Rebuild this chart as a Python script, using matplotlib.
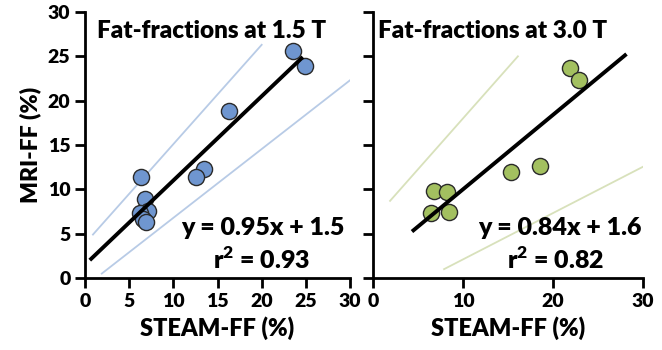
import matplotlib.pyplot as plt

plt.rcParams['font.family'] = ['Lato', 'DejaVu Sans']
plt.rcParams['font.weight'] = 'heavy'
plt.rcParams['mathtext.fontset'] = 'custom'
plt.rcParams['mathtext.bf'] = 'Lato:heavy'

# 1.5 T data (STEAM-FF, MRI-FF)
steam_15 = [23.5, 24.9, 16.3, 13.5, 12.6, 6.3, 6.8, 7.1, 6.2, 6.6, 6.9]
mri_15 = [25.6, 23.9, 18.8, 12.3, 11.4, 11.4, 8.9, 7.6, 7.3, 6.6, 6.3]
fit_15_x = [0.7, 24.5]
band_hi_15_x = [0.9, 20.0]
band_hi_15_y = [4.9, 26.3]
band_lo_15_x = [1.9, 30.0]
band_lo_15_y = [0.5, 22.3]

# 3.0 T data
steam_30 = [21.9, 22.9, 18.6, 15.3, 6.8, 8.2, 6.5, 8.5]
mri_30 = [23.7, 22.3, 12.6, 12.0, 9.8, 9.7, 7.3, 7.4]
fit_30_x = [4.5, 28.0]
band_hi_30_x = [1.9, 16.1]
band_hi_30_y = [8.7, 25.0]
band_lo_30_x = [7.9, 30.1]
band_lo_30_y = [1.0, 12.6]

fig = plt.figure(figsize=(6.62, 3.5), dpi=100)
ax1 = fig.add_axes([0.1284, 0.2057, 0.4003, 0.76])
ax2 = fig.add_axes([0.5634, 0.2057, 0.4079, 0.76])

panels = [
    (ax1, steam_15, mri_15, 0.95, 1.5, 0.93, fit_15_x, band_hi_15_x, band_hi_15_y,
     band_lo_15_x, band_lo_15_y, '#6f96d0', '#b8cbe6', 'Fat-fractions at 1.5 T',
     0.045, 0.981, 0.666),
    (ax2, steam_30, mri_30, 0.84, 1.6, 0.82, fit_30_x, band_hi_30_x, band_hi_30_y,
     band_lo_30_x, band_lo_30_y, '#a3c060', '#d8e1bb', 'Fat-fractions at 3.0 T',
     0.018, 0.996, 0.678),
]

for (ax, xs, ys, slope, icpt, r2, fx, bhx, bhy, blx, bly, col, bcol, title,
     tx, ex, rx) in panels:
    ax.plot(bhx, bhy, color=bcol, lw=1.3, zorder=1)
    ax.plot(blx, bly, color=bcol, lw=1.3, zorder=1)
    ax.scatter(xs, ys, s=135, color=col, edgecolor='#2a2a2a', linewidth=1.0, zorder=2)
    ax.plot(fx, [slope * v + icpt for v in fx], color='black', lw=2.8, zorder=3)
    ax.set_xlim(0, 30)
    ax.set_ylim(0, 30)
    for s in ['top', 'right']:
        ax.spines[s].set_visible(False)
    for s in ['left', 'bottom']:
        ax.spines[s].set_linewidth(2.0)
    ax.tick_params(width=2.0, length=7, labelsize=14, direction='out')
    ax.set_xlabel('STEAM-FF (%)', fontsize=17, fontweight='heavy', labelpad=5)
    ax.text(tx, 0.93, title, transform=ax.transAxes, ha='left', va='center',
            fontsize=17.5, fontweight='heavy')
    ax.text(ex, 0.188, 'y = %.2fx + %.1f' % (slope, icpt), transform=ax.transAxes,
            ha='right', va='center', fontsize=18, fontweight='heavy')
    ax.text(rx, 0.068, 'r$^\\mathbf{2}$ = %.2f' % r2, transform=ax.transAxes,
            ha='center', va='center', fontsize=18, fontweight='heavy')

ax1.set_xticks(range(0, 31, 5))
ax1.set_yticks(range(0, 31, 5))
ax1.set_ylabel('MRI-FF (%)', fontsize=16.5, fontweight='heavy', labelpad=5)
ax2.set_xticks(range(0, 31, 10))
ax2.set_yticks(range(0, 31, 5))
ax2.set_yticklabels([])

fig.savefig('out.png', dpi=100)
